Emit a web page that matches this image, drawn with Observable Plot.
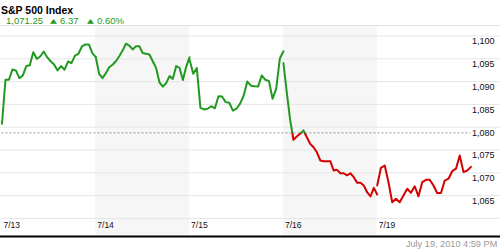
<!DOCTYPE html>
<html><head><meta charset="utf-8">
<script src="https://cdn.jsdelivr.net/npm/d3@7"></script>
<script src="https://cdn.jsdelivr.net/npm/@observablehq/plot@0.6"></script>
<style>
body{margin:0;width:500px;height:250px;overflow:hidden;background:#fff;font-family:"Liberation Sans",Arial,sans-serif;position:relative}
#title{position:absolute;left:1px;top:3.6px;font-size:10.5px;line-height:12px;font-weight:bold;color:#000;white-space:nowrap}
.q{position:absolute;top:15.2px;font-size:9.5px;line-height:11px;color:#1f9a1f;white-space:nowrap}
.tri{font-family:"DejaVu Sans",sans-serif;font-size:9px;top:15px;transform:scaleY(0.68);transform-origin:50% 8.6px}
#chart{position:absolute;left:0;top:25px}
#stamp{position:absolute;right:2.7px;top:239.2px;font-size:9.2px;line-height:10px;color:#999;white-space:nowrap}
</style></head>
<body>
<div id="title">S&amp;P 500 Index</div>
<div class="q" style="left:6px">1,071.25</div>
<div class="q tri" style="left:50px">▲</div>
<div class="q" style="left:60px">6.37</div>
<div class="q tri" style="left:87px">▲</div>
<div class="q" style="left:97px">0.60%</div>
<div id="chart"></div>
<div id="stamp">July 19, 2010 4:59 PM</div>
<script>
const days = ["7/13", "7/14", "7/15", "7/16", "7/19"];
const day713 = [1080.75, 1090.4, 1090.4, 1092.65, 1092.45, 1090.75, 1091.35, 1093.4, 1093.6, 1096.45, 1095.0, 1095.5, 1096.6, 1095.35, 1094.45, 1093.75, 1092.45, 1093.4, 1092.6, 1094.4, 1094.05, 1095.7, 1096.1, 1097.7, 1098.15, 1098.15, 1096.25, 1095.35];
const day714 = [1095.35, 1091.7, 1090.75, 1091.85, 1093.15, 1093.7, 1094.45, 1095.55, 1096.8, 1098.3, 1097.9, 1097.05, 1097.75, 1097.75, 1096.25, 1096.1, 1095.95, 1094.45, 1093.0, 1089.85, 1088.9, 1089.65, 1091.2, 1090.6, 1093.4, 1093.0, 1090.35, 1093.3, 1095.35];
const day715 = [1094.8, 1091.7, 1092.95, 1084.25, 1083.9, 1084.05, 1084.6, 1084.15, 1086.8, 1086.75, 1085.5, 1085.35, 1083.65, 1084.05, 1085.15, 1086.95, 1090.0, 1089.1, 1089.0, 1088.95, 1091.35, 1090.4, 1090.1, 1086.25, 1088.4, 1095.0, 1096.65];
const day716 = [1094.05, 1087.7, 1081.65, 1077.25, 1077.95, 1078.55, 1079.3, 1077.8, 1076.35, 1075.6, 1074.5, 1072.7, 1072.55, 1072.55, 1072.55, 1070.5, 1070.65, 1069.9, 1069.9, 1069.45, 1069.9, 1069.05, 1067.8, 1067.8, 1067.2, 1065.75, 1064.8, 1066.7, 1065.25];
const day719 = [1067.2, 1071.1, 1071.6, 1067.95, 1063.55, 1064.3, 1063.55, 1065.0, 1066.5, 1065.6, 1067.05, 1064.85, 1067.95, 1068.45, 1068.45, 1067.2, 1065.55, 1065.55, 1068.3, 1068.7, 1070.35, 1070.9, 1073.8, 1070.15, 1070.5, 1071.3];
const prevClose = 1078.75;
const gridValues = [1060, 1065, 1070, 1075, 1080, 1085, 1090, 1095, 1100];
const labelValues = [1065, 1070, 1075, 1080, 1085, 1090, 1095, 1100];
const yDomain = [1056.03, 1102.3];
const green = "#1f9a1f", red = "#d40000";

const series = [day713, day714, day715, day716, day719];
const rows = series.flatMap((vals, d) => vals.map((v, i) => ({d, t: d + i / (vals.length - 1), v})));
const shaded = days.map((_, i) => i).filter(i => i % 2 === 1);
const H = 225;

const chart = Plot.plot({
  width: 500, height: H,
  marginTop: 0, marginBottom: 14, marginLeft: 0, marginRight: 0,
  x: {domain: [0, days.length], range: [1.5, 470.5], axis: null},
  y: {domain: yDomain, axis: null},
  style: {fontFamily: '"Liberation Sans", Arial, sans-serif', background: "transparent", overflow: "visible"},
  marks: [
    Plot.rect(shaded, {x1: d => d, x2: d => d + 1, fill: "#f6f6f6"}),
    Plot.ruleY(gridValues, {stroke: "#e6e6e6"}),
    Plot.ruleY([prevClose], {x1: 0, x2: days.length, stroke: "#9a9a9a", strokeDasharray: "2,2"}),
    Plot.line(rows, {x: "t", y: "v", z: "d", stroke: "url(#updown)", strokeWidth: 2, curve: "linear"}),
    Plot.text(labelValues, {y: d => d, text: d => d3.format(",")(d), frameAnchor: "right", textAnchor: "end", dx: -6, dy: 5.5, fontSize: 9, fill: "#111"}),
    Plot.text(days, {x: (d, i) => i, text: d => d, frameAnchor: "bottom", textAnchor: "start", dx: 1.5, dy: -8.5, fontSize: 8.5, fill: "#111"}),
    Plot.ruleY([yDomain[0]], {stroke: "#000", strokeWidth: 2}),
    Plot.ruleY([yDomain[1]], {stroke: "#e3e3e3"})
  ]
});

const yScale = chart.scale("y");
const off = yScale.apply(prevClose) / H;
const defs = d3.select(chart).insert("defs", ":first-child");
const grad = defs.append("linearGradient").attr("id", "updown")
  .attr("gradientUnits", "userSpaceOnUse").attr("x1", 0).attr("y1", 0).attr("x2", 0).attr("y2", H);
grad.append("stop").attr("offset", off).attr("stop-color", green);
grad.append("stop").attr("offset", off).attr("stop-color", red);

document.getElementById("chart").appendChild(chart);
</script>
</body></html>
